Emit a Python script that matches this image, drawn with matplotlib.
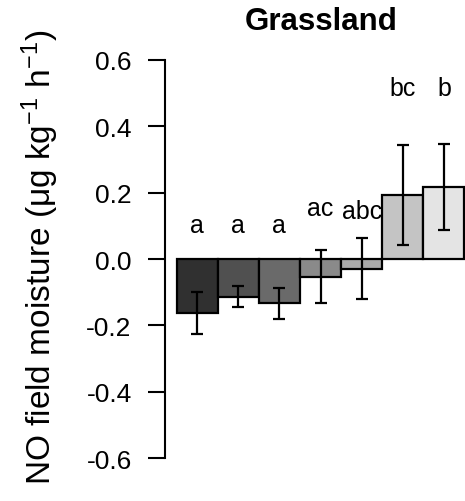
import numpy as np
import matplotlib
matplotlib.use('Agg')
import matplotlib.pyplot as plt

plt.rcParams['font.family'] = ['Liberation Sans', 'DejaVu Sans']
plt.rcParams['mathtext.fontset'] = 'custom'
plt.rcParams['mathtext.rm'] = 'Liberation Sans'
plt.rcParams['mathtext.it'] = 'Liberation Sans'

# values
means = [-0.163, -0.114, -0.133, -0.054, -0.030, 0.193, 0.217]
errs = [0.063, 0.032, 0.047, 0.080, 0.092, 0.150, 0.131]
letters = ['a', 'a', 'a', 'ac', 'abc', 'bc', 'b']
letter_y = [0.081, 0.081, 0.081, 0.133, 0.123, 0.494, 0.494]
bar_colors = ['#303030', '#505050', '#6a6a6a', '#8a8a8a', '#aaaaaa', '#c4c4c4', '#e4e4e4']
yticks = [-0.6, -0.4, -0.2, 0.0, 0.2, 0.4, 0.6]

W, H = 465, 502
fig = plt.figure(figsize=(W / 100, H / 100), dpi=100)
# axes placed in pixels: left 165, top 45, 311 wide, 430 high
ax = fig.add_axes([165 / W, 1 - 475 / H, 311 / W, 430 / H])

x = np.arange(len(means)) + 0.5
ax.bar(x, means, width=1.0, color=bar_colors, edgecolor='black', linewidth=1.6, zorder=2)
ax.errorbar(x, means, yerr=errs, fmt='none', ecolor='black', elinewidth=1.6,
            capsize=4.5, capthick=1.6, zorder=3)
for xi, lab, ly in zip(x, letters, letter_y):
    ax.text(xi, ly, lab, ha='center', va='baseline', fontsize=18)

ax.set_xlim(-0.28, 7.28)
ax.set_ylim(-0.648, 0.648)
ax.set_yticks(yticks)
ax.set_yticklabels(['%.1f' % v for v in yticks], fontsize=19)
ax.tick_params(axis='y', length=12, width=1.5, pad=12)
ax.set_xticks([])
for s in ['top', 'right', 'bottom']:
    ax.spines[s].set_visible(False)
ax.spines['left'].set_bounds(-0.6, 0.6)
ax.spines['left'].set_linewidth(1.5)

fig.text(40 / W, 1 - 257 / H, r'NO field moisture ($\mathrm{\mu g\ kg^{-1}\ h^{-1}}$)',
         rotation=90, ha='center', va='center', fontsize=24)
fig.text(321 / W, 1 - 22 / H, 'Grassland', ha='center', va='center',
         fontsize=22.5, fontweight='bold')

fig.savefig('out.png', dpi=100)
